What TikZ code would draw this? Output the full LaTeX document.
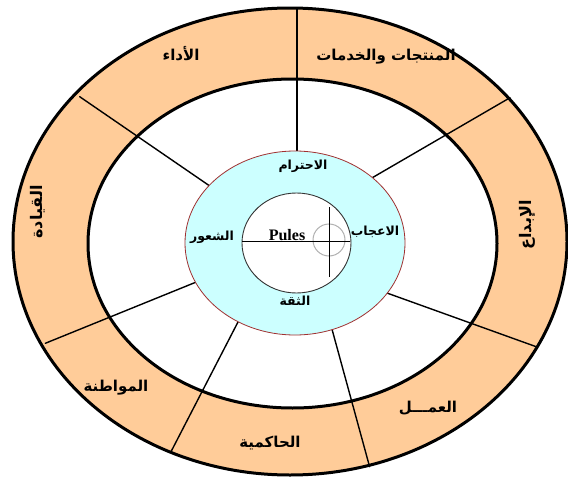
\documentclass[tikz,border=0pt]{standalone}
\usepackage{fontspec}
\newfontfamily\arabicfont[Script=Arabic]{DejaVu Sans}
\newfontfamily\latinserif{Liberation Serif}
\TeXXeTstate=1
\usetikzlibrary{calc}
\definecolor{ringorange}{HTML}{FFCC99}
\definecolor{lightcyan}{HTML}{CCFFFF}
\definecolor{cyanborder}{HTML}{A03030}
\definecolor{graycirc}{HTML}{B0B0B0}
\tikzset{
  radial/.style={line width=1.4pt, line cap=round},
  thickring/.style={line width=3pt},
  lbl/.style={font=\arabicfont\bfseries\fontsize{15}{15}\selectfont, inner sep=0pt},
  lblside/.style={font=\arabicfont\bfseries\fontsize{16}{16}\selectfont, inner sep=0pt, rotate=90},
  lblsmall/.style={font=\arabicfont\bfseries\fontsize{12.5}{12.5}\selectfont, inner sep=0pt}
}
\begin{document}
\begin{tikzpicture}[x=1pt,y=-1pt]
\useasboundingbox (0,0) rectangle (568,479);
% fills
\fill[ringorange] (290,241.5) ellipse [x radius=277, y radius=233.5];
\fill[white] (292.5,243.5) ellipse [x radius=204.5, y radius=164.5];
% radial connectors
\coordinate (o1) at (297,9);     \coordinate (c1) at (297,156);
\coordinate (o2) at (79.7,96.7); \coordinate (c2) at (212.4,187.8);
\coordinate (o3) at (510,97.7);  \coordinate (c3) at (368.7,179.8);
\coordinate (o4) at (537,347);   \coordinate (c4) at (383,291.6);
\coordinate (o5) at (45.3,343.3);\coordinate (c5) at (200.3,280.4);
\coordinate (o6) at (171,451.7); \coordinate (c6) at (239.6,318.9);
\coordinate (o7) at (369.6,466.7);\coordinate (c7) at (330.9,325.2);
\foreach \i in {1,...,7}{\draw[radial] (o\i) -- (c\i);}
% cyan and inner white ellipses
\filldraw[fill=lightcyan, draw=cyanborder, line width=0.8pt] (295,243) ellipse [x radius=110, y radius=92];
\filldraw[fill=white, draw=black!80, line width=0.9pt] (296.5,243) ellipse [x radius=54.5, y radius=50];
% ring outlines
\draw[thickring] (290,241.5) ellipse [x radius=277, y radius=233.5];
\draw[thickring] (292.5,243.5) ellipse [x radius=204.5, y radius=164.5];
% centre cross and gray circle
\draw[graycirc, line width=1pt] (329,240) circle [radius=16];
\coordinate (hl) at (242,241.5); \coordinate (hr) at (350,241.5);
\coordinate (vt) at (329,207);   \coordinate (vb) at (329,277);
\draw[line width=1pt] (hl) -- (hr);
\draw[line width=1pt] (vt) -- (vb);
\node[font=\latinserif\bfseries\fontsize{16}{16}\selectfont, inner sep=0pt, anchor=base] (pules) at (287,240) {Pules};
% inner labels
\node[lblsmall] (ihtiram) at (303,166) {\beginR الاحترام\endR};
\node[lblsmall] (shuur) at (212,237) {\beginR الشعور\endR};
\node[lblsmall] (iejab) at (375,232) {\beginR الاعجاب\endR};
\node[lblsmall] (thiqa) at (295,301) {\beginR الثقة\endR};
% ring labels
\node[lbl] (adaa) at (181,54) {\beginR الأداء\endR};
\node[lbl] (muntajat) at (386,57) {\beginR المنتجات والخدمات\endR};
\node[lblside] (qiyada) at (38,212) {\beginR القيادة\endR};
\node[lblside] (ibdaa) at (527,225) {\beginR الإبداع\endR};
\node[lbl] (muwatana) at (116,388) {\beginR المواطنة\endR};
\node[lbl] (hakimiya) at (270,443) {\beginR الحاكمية\endR};
\node[lbl] (amal) at (428,408) {\beginR العمـــل\endR};
\end{tikzpicture}
\end{document}
